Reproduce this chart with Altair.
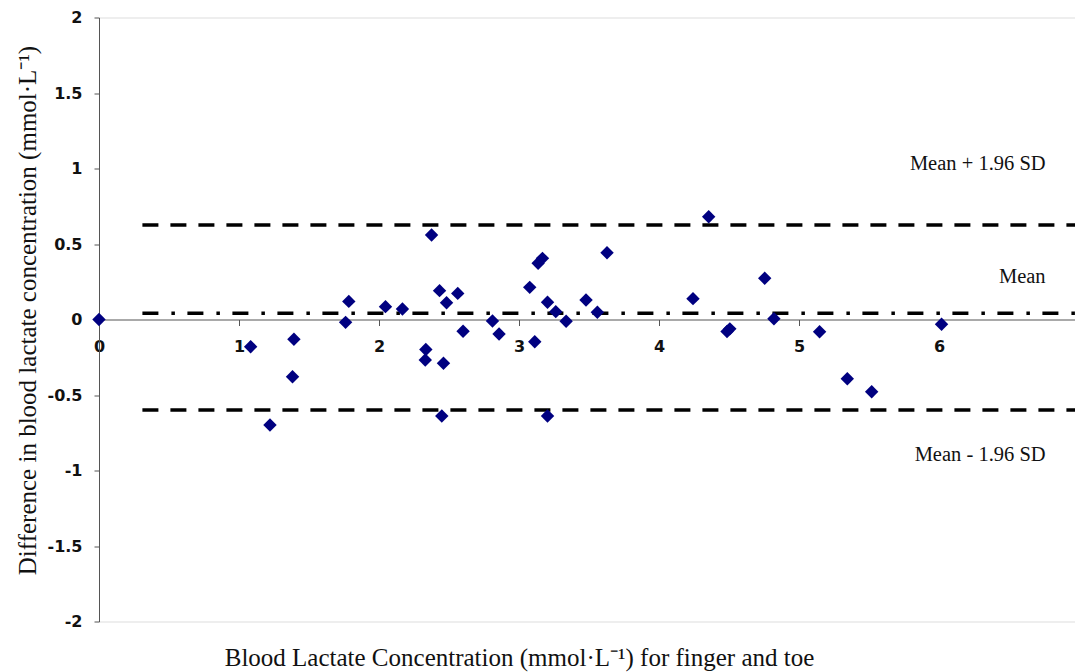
import altair as alt
import pandas as pd

# Bland-Altman data
mean_conc = [0.0, 1.083, 1.221, 1.392, 1.382, 1.761, 1.784, 2.046, 2.167, 2.375,
             2.334, 2.330, 2.432, 2.482, 2.460, 2.448, 2.562, 2.600, 2.810, 2.857,
             3.076, 3.112, 3.136, 3.167, 3.203, 3.203, 3.262, 3.336, 3.478, 3.559,
             3.628, 4.242, 4.354, 4.485, 4.505, 4.754, 4.820, 5.146, 5.344, 5.518,
             6.017]
difference = [0.0, -0.180, -0.699, -0.131, -0.379, -0.019, 0.120, 0.085, 0.070, 0.560,
              -0.199, -0.268, 0.191, 0.111, -0.290, -0.639, 0.173, -0.078, -0.010, -0.096,
              0.213, -0.147, 0.372, 0.405, 0.114, -0.639, 0.052, -0.012, 0.129, 0.048,
              0.442, 0.138, 0.681, -0.080, -0.062, 0.273, 0.005, -0.081, -0.392, -0.478,
              -0.032]

limit_names = ["upper", "mean", "lower"]
limit_values = [0.626, 0.042, -0.600]
limit_start = 0.31
limit_end = 6.97

label_texts = ["Mean + 1.96 SD", "Mean", "Mean - 1.96 SD"]
label_y = [1.03, 0.283, -0.897]
label_x = 6.76

x_ticks = [0, 1, 2, 3, 4, 5, 6]
y_ticks = [-2 + 0.25 * i for i in range(17)]

pts = pd.DataFrame({"x": mean_conc, "y": difference})
lims = pd.DataFrame({"name": limit_names, "y": limit_values,
                     "x": [limit_start] * 3, "x2": [limit_end] * 3})
labs = pd.DataFrame({"text": label_texts, "y": label_y, "x": [label_x] * 3})

W, H = 976, 604
xscale = alt.Scale(domain=[0, limit_end], nice=False, zero=False)
yscale = alt.Scale(domain=[-2, 2], nice=False)

x_axis = alt.Axis(
    values=x_ticks, offset=-H / 2, grid=False,
    labelExpr="'' + datum.value",
    domainColor="#555555", domainWidth=1, tickColor="#555555", tickSize=6,
    labelFont="DejaVu Sans", labelFontWeight="bold", labelFontSize=16,
    labelColor="#111111", labelBaseline="middle", labelPadding=21, labelFlush=False,
    title="Blood Lactate Concentration (mmol·L⁻¹) for finger and toe",
    titleFont="Liberation Serif", titleFontSize=25, titleFontWeight="normal",
    titleColor="#111111", titleX=420, titleY=338, titleBaseline="middle",
    titleAlign="center",
)
y_axis = alt.Axis(
    values=y_ticks, grid=False,
    labelExpr="abs(datum.value*2 - round(datum.value*2)) < 0.001 ? '' + datum.value : ''",
    domainColor="#555555", domainWidth=1, tickColor="#555555", tickSize=5,
    labelFont="DejaVu Sans", labelFontWeight="bold", labelFontSize=16,
    labelColor="#111111", labelPadding=12,
    title="Difference in blood lactate concentration (mmol·L⁻¹)",
    titleFont="Liberation Serif", titleFontSize=25, titleFontWeight="normal",
    titleColor="#111111", titleAngle=270, titleX=-72, titleY=292.5,
    titleBaseline="middle", titleAlign="center",
)

points = alt.Chart(pts).mark_point(
    shape="diamond", filled=True, size=180, color="#000080", opacity=1
).encode(
    x=alt.X("x:Q", scale=xscale, axis=x_axis),
    y=alt.Y("y:Q", scale=yscale, axis=y_axis),
)

dashed = alt.Chart(lims).transform_filter("datum.name != 'mean'").mark_rule(
    color="black", strokeWidth=3.5, strokeDash=[16, 12]
).encode(x="x:Q", x2="x2:Q", y="y:Q")

dashdot = alt.Chart(lims).transform_filter("datum.name == 'mean'").mark_rule(
    color="black", strokeWidth=3.5, strokeDash=[16, 13, 3.5, 12.5]
).encode(x="x:Q", x2="x2:Q", y="y:Q")

texts = alt.Chart(labs).mark_text(
    font="Liberation Serif", fontSize=20.5, align="right", baseline="middle", color="#111111"
).encode(x="x:Q", y="y:Q", text="text:N")

chart = alt.layer(dashed, dashdot, points, texts).properties(
    width=W, height=H,
    padding={"left": 99, "top": 17.5, "right": 0, "bottom": 50.5},
    autosize=alt.AutoSizeParams(type="none"),
).configure_view(stroke=None).configure(background="white")

chart.save("out.html", embed_options={"renderer": "svg", "actions": False})
